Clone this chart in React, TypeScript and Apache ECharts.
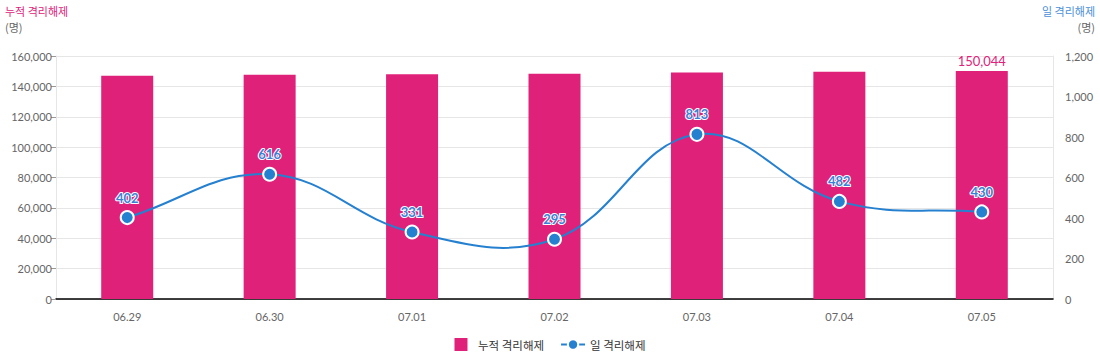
import React, { useEffect, useRef } from "react";
import * as echarts from "echarts";

const categories = ["06.29", "06.30", "07.01", "07.02", "07.03", "07.04", "07.05"];
const cumulative = [147077, 147693, 148024, 148319, 149132, 149614, 150044];
const daily = [402, 616, 331, 295, 813, 482, 430];

const PINK = "#e0217a";
const BLUE = "#2580d0";
const FONT = "Lato, 'Noto Sans CJK KR', sans-serif";
const TENSION = 0.4;

function splinePath(pts: number[][]): string {
  const n = pts.length;
  const cps: { prev: number[]; next: number[] }[] = [];
  for (let i = 0; i < n; i++) {
    const p = pts[i];
    const a = pts[Math.max(0, i - 1)];
    const b = pts[Math.min(n - 1, i + 1)];
    const d01 = Math.hypot(p[0] - a[0], p[1] - a[1]);
    const d12 = Math.hypot(b[0] - p[0], b[1] - p[1]);
    const s = d01 + d12 || 1;
    const fa = (TENSION * d01) / s;
    const fb = (TENSION * d12) / s;
    cps.push({
      prev: [p[0] - fa * (b[0] - a[0]), p[1] - fa * (b[1] - a[1])],
      next: [p[0] + fb * (b[0] - a[0]), p[1] + fb * (b[1] - a[1])],
    });
  }
  let d = `M${pts[0][0]},${pts[0][1]}`;
  for (let i = 1; i < n; i++) {
    const c1 = cps[i - 1].next;
    const c2 = cps[i].prev;
    d += ` C${c1[0]},${c1[1]} ${c2[0]},${c2[1]} ${pts[i][0]},${pts[i][1]}`;
  }
  return d;
}

export default function App() {
  const ref = useRef<HTMLDivElement>(null);
  useEffect(() => {
    document.body.style.margin = "0";
    const chart = echarts.init(ref.current!, null, { renderer: "svg" });
    const last = cumulative.length - 1;
    chart.setOption({
      animation: false,
      textStyle: { fontFamily: FONT },
      grid: { left: 56, right: 47, top: 56, bottom: 65 },
      graphic: [
        { type: "text", left: 5, top: 5, style: { text: "누적 격리해제", fill: PINK, font: "11px 'Noto Sans CJK KR'" } },
        { type: "text", left: 5, top: 21, style: { text: "(명)", fill: "#666", font: "11px 'Noto Sans CJK KR'" } },
        { type: "text", right: 5, top: 5, style: { text: "일 격리해제", fill: "#4a90d9", font: "11px 'Noto Sans CJK KR'" } },
        { type: "text", right: 5, top: 21, style: { text: "(명)", fill: "#666", font: "11px 'Noto Sans CJK KR'" } },
      ],
      legend: {
        bottom: 8,
        left: "center",
        itemGap: 16,
        itemWidth: 24,
        itemHeight: 13,
        textStyle: { color: "#333", fontSize: 11.5, fontFamily: "'Noto Sans CJK KR'" },
        data: [
          { name: "누적 격리해제", icon: "path://M0,0h13v13h-13z" },
          { name: "일 격리해제", lineStyle: { color: BLUE, width: 2, opacity: 1 } },
        ],
      },
      xAxis: {
        type: "category",
        data: categories,
        axisLine: { lineStyle: { color: "#000", width: 1.5 } },
        axisTick: { show: false },
        axisLabel: { color: "#666", fontSize: 11, margin: 12 },
      },
      yAxis: [
        {
          type: "value",
          min: 0,
          max: 160000,
          interval: 20000,
          axisLine: { show: true, lineStyle: { color: "#e6e6e6" } },
          axisTick: { show: true, length: 5, lineStyle: { color: "#999" } },
          axisLabel: { color: "#666", fontSize: 11, margin: 4, formatter: (v: number) => v.toLocaleString("en-US") },
          splitLine: { lineStyle: { color: "#e6e6e6" } },
        },
        {
          type: "value",
          min: 0,
          max: 1200,
          interval: 200,
          position: "right",
          axisLine: { show: true, lineStyle: { color: "#e6e6e6" } },
          axisTick: { show: false },
          axisLabel: { color: "#666", fontSize: 11, margin: 12, formatter: (v: number) => v.toLocaleString("en-US") },
          splitLine: { show: false },
        },
      ],
      series: [
        {
          name: "누적 격리해제",
          type: "bar",
          barWidth: 52,
          itemStyle: { color: PINK },
          data: cumulative.map((v, i) =>
            i === last
              ? {
                  value: v,
                  label: {
                    show: true,
                    position: "top",
                    color: PINK,
                    fontSize: 13,
                    distance: 4,
                    formatter: (p: any) => Number(p.value).toLocaleString("en-US"),
                  },
                }
              : v
          ),
        },
        {
          name: "daily-curve",
          type: "custom",
          yAxisIndex: 1,
          z: 3,
          silent: true,
          data: [[0, daily[0]]],
          renderItem: (params: any, api: any) => {
            const pts = daily.map((v, i) => api.coord([i, v]));
            return {
              type: "path",
              shape: { pathData: splinePath(pts) },
              style: { fill: "none", stroke: BLUE, lineWidth: 2 },
            };
          },
        },
        {
          name: "일 격리해제",
          type: "line",
          yAxisIndex: 1,
          z: 4,
          symbol: "circle",
          symbolSize: 13,
          lineStyle: { color: BLUE, width: 0, opacity: 0 },
          itemStyle: { color: BLUE, borderColor: "#fff", borderWidth: 2 },
          label: {
            show: true,
            position: "top",
            distance: 6,
            color: "#3a80d6",
            fontSize: 13,
            fontWeight: "bold",
            textBorderColor: "#fff",
            textBorderWidth: 2,
          },
          data: daily,
        },
      ],
    });
    return () => chart.dispose();
  }, []);
  return <div ref={ref} style={{ width: 1100, height: 364 }} />;
}
